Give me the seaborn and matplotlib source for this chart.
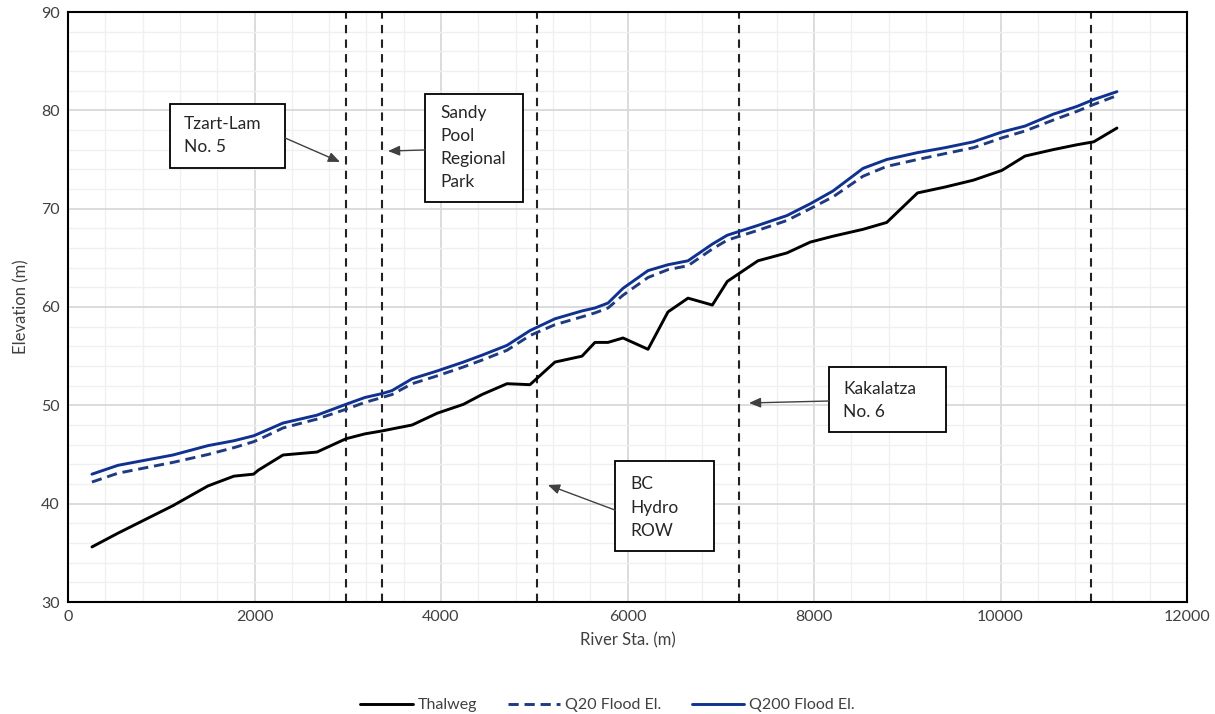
import numpy as np
import pandas as pd
import seaborn as sns
import matplotlib.pyplot as plt
from matplotlib.patches import Rectangle
from matplotlib.ticker import MultipleLocator

stations = [257, 536, 1126, 1500, 1780, 1990, 2040, 2306, 2670, 2980, 3185, 3370, 3475, 3690,
            3960, 4240, 4440, 4708, 4954, 5222, 5512, 5651, 5791, 5952, 6220, 6434, 6649, 6910,
            7070, 7399, 7710, 7960, 8204, 8526, 8780, 9110, 9405, 9710, 10016, 10263, 10563,
            10820, 11000, 11249]
thalweg = [35.6, 37.0, 39.8, 41.8, 42.8, 43.0, 43.4, 44.95, 45.25, 46.6, 47.1, 47.4, 47.6, 48.0,
           49.2, 50.1, 51.1, 52.2, 52.1, 54.4, 55.0, 56.4, 56.4, 56.85, 55.7, 59.5, 60.9, 60.2,
           62.6, 64.7, 65.5, 66.6, 67.2, 67.9, 68.6, 71.6, 72.2, 72.9, 73.9, 75.35, 76.0,
           76.5, 76.8, 78.2]
q20 = [42.2, 43.1, 44.2, 45.0, 45.7, 46.3, 46.5, 47.7, 48.6, 49.6, 50.3, 50.8, 51.1, 52.2,
       53.0, 53.9, 54.6, 55.6, 57.1, 58.2, 59.0, 59.4, 59.9, 61.2, 63.0, 63.8, 64.2, 65.9,
       66.8, 67.8, 68.8, 70.0, 71.2, 73.3, 74.3, 75.0, 75.6, 76.2, 77.2, 77.9, 79.0,
       79.9, 80.6, 81.5]
q200 = [43.0, 43.9, 44.95, 45.9, 46.4, 46.9, 47.1, 48.2, 49.0, 50.1, 50.8, 51.2, 51.5, 52.7,
        53.5, 54.4, 55.1, 56.1, 57.6, 58.8, 59.6, 59.9, 60.4, 61.9, 63.7, 64.3, 64.7, 66.4,
        67.3, 68.3, 69.3, 70.5, 71.8, 74.1, 75.0, 75.7, 76.2, 76.8, 77.8, 78.4, 79.6,
        80.4, 81.1, 81.9]
boundaries = [2980, 3370, 5030, 7200, 10970]
series_names = ["Thalweg", "Q20 Flood El.", "Q200 Flood El."]

sns.set_style("white")
plt.rcParams['font.family'] = ['Lato', 'DejaVu Sans']

df = pd.DataFrame({"station": stations, "Thalweg": thalweg,
                   "Q20 Flood El.": q20, "Q200 Flood El.": q200})

fig = plt.figure(figsize=(12.15, 7.14), dpi=100)
ax = fig.add_axes([68/1215, 112/714, (1187-68)/1215, (602-12)/714])

ax.set_xlim(0, 12000)
ax.set_ylim(30, 90)
ax.xaxis.set_major_locator(MultipleLocator(2000))
ax.xaxis.set_minor_locator(MultipleLocator(400))
ax.yaxis.set_major_locator(MultipleLocator(10))
ax.yaxis.set_minor_locator(MultipleLocator(2))
ax.grid(which='major', color='#d9d9d9', lw=1.3)
ax.grid(which='minor', color='#f0f0f0', lw=1.0)
ax.set_axisbelow(True)
ax.tick_params(which='both', length=0)
ax.tick_params(labelsize=11.5, colors='#404040', pad=6)

for x in boundaries:
    ax.axvline(x, color='#222222', lw=1.5, ls=(0, (4, 3)), zorder=2)

sns.lineplot(data=df, x="station", y="Thalweg", ax=ax, color='black', lw=2.1,
             label=series_names[0], zorder=3)
sns.lineplot(data=df, x="station", y="Q20 Flood El.", ax=ax, color='#1F3B80', lw=2.1,
             linestyle=(0, (3.5, 2)), label=series_names[1], zorder=3)
sns.lineplot(data=df, x="station", y="Q200 Flood El.", ax=ax, color='#0F3290', lw=2.1,
             label=series_names[2], zorder=3)

for s in ax.spines.values():
    s.set_visible(True)
    s.set_color('black')
    s.set_linewidth(1.5)

ax.set_xlabel("River Sta. (m)", fontsize=12, color='#404040', labelpad=6)
ax.set_ylabel("Elevation (m)", fontsize=12, color='#404040', labelpad=8)

# annotation boxes
boxes = [
    (1094, 74.14, 2327 - 1094, 80.64 - 74.14, 1244, 77.4, "Tzart-Lam\nNo. 5", (2327, 77.19), (2917, 74.75)),
    (3828, 70.68, 4879 - 3828, 81.66 - 70.68, 3989, 76.2, "Sandy\nPool\nRegional\nPark", (3828, 75.97), (3432, 75.86)),
    (8161, 47.29, 9416 - 8161, 53.9 - 47.29, 8311, 50.5, "Kakalatza\nNo. 6", (8161, 50.44), (7303, 50.24)),
    (5866, 35.2, 6928 - 5866, 44.36 - 35.2, 6027, 39.6, "BC\nHydro\nROW", (5866, 39.35), (5147, 41.9)),
]
for x0, y0, w, h, tx, ty, txt, start, end in boxes:
    ax.add_patch(Rectangle((x0, y0), w, h, facecolor='white', edgecolor='black', lw=1.3, zorder=5))
    ax.text(tx, ty, txt, fontsize=12.5, color='#262626', va='center', ha='left',
            linespacing=1.55, zorder=6)
    ax.annotate("", xy=end, xytext=start,
                arrowprops=dict(arrowstyle='-|>,head_length=0.7,head_width=0.3',
                                color='#404040', lw=1.0, shrinkA=0, shrinkB=0), zorder=6)

handles, labels = ax.get_legend_handles_labels()
ax.get_legend().remove()
fig.legend(handles, labels, loc='lower center', bbox_to_anchor=(0.5, -0.018), ncol=3,
           frameon=False, fontsize=11.5, handlelength=3.3, handletextpad=0.3,
           columnspacing=1.9, labelcolor='#404040')

fig.savefig("out.png", dpi=100)
